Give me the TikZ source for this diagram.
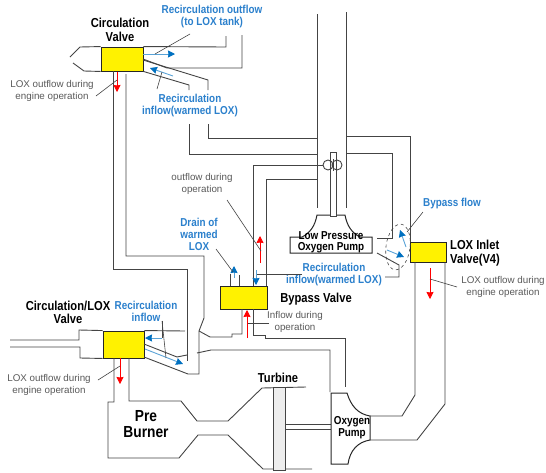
\documentclass[tikz,border=0pt]{standalone}
\usepackage{fontspec}
\usetikzlibrary{arrows.meta}
\setmainfont{Liberation Sans}
\newfontfamily\narrowfont[FakeStretch=0.86]{Liberation Sans}
\definecolor{flowblue}{HTML}{0070C0}
\definecolor{textblue}{HTML}{2B80CC}
\definecolor{pipegray}{HTML}{444444}
\tikzset{
  pipe/.style={draw=pipegray, line width=0.9pt},
  leader/.style={draw=pipegray, line width=0.6pt},
  blueflow/.style={-{Stealth[inset=0.5pt, length=7pt, width=7pt, flowblue]}, draw=flowblue!65, line width=0.9pt},
  redflow/.style={-{Stealth[inset=0.5pt, length=7pt, width=7pt, red]}, draw=red, line width=0.8pt},
  valve/.style={draw=black!85, line width=0.9pt, fill=yellow, rectangle, inner sep=0pt},
  blacklabel/.style={align=center, inner sep=0pt, text=black, font=\narrowfont\bfseries\fontsize{13}{13.5}\selectfont},
  bluelabel/.style={align=center, inner sep=0pt, text=textblue, font=\narrowfont\bfseries\fontsize{11.5}{12}\selectfont},
  graylabel/.style={align=center, inner sep=0pt, text=black!65, font=\fontsize{9.8}{11.6}\selectfont},
}
\begin{document}
\begin{tikzpicture}[x=1pt, y=-1pt]
\useasboundingbox (0,0) rectangle (546,472);
% valves
\node[valve, minimum width=42pt, minimum height=24pt] (cv) at (122,59) {};
\node[valve, minimum width=41pt, minimum height=27pt] (clv) at (123.5,344.5) {};
\node[valve, minimum width=47pt, minimum height=23pt] (bpv) at (243.5,297.5) {};
\node[valve, minimum width=36pt, minimum height=20pt] (liv) at (428,252) {};
% circulation valve pipes
\draw[pipe] (cv.north west) -- (80,47) -- (70,57);
\draw[pipe] (73,63) -- (84,71) -- (cv.south west);
\draw[pipe] (cv.north east) -- (226,47) -- (226,36);
\draw[pipe] (143,59) -- (167,68) -- (242,68) -- (242,35);
\draw[pipe] (143,60) -- (208,80) -- (208,90);
\draw[pipe] (cv.south east) -- (189,85) -- (189,90);
\draw[pipe] (208,124) -- (208,138) -- (317,138);
\draw[pipe] (189,124) -- (189,154) -- (317,154);
\draw[pipe] (113,71) -- (113,269) -- (187,269) -- (187,361);
\draw[pipe] (126,74) -- (126,256) -- (204,256) -- (204,318) -- (199,331) -- (199,374) -- (188,374) -- (144,357);
% circulation/LOX valve pipes
\draw[pipe] (10,340) -- (79,340) -- (79,330) -- (clv.north west);
\draw[pipe] (10,347) -- (80,347) -- (80,358) -- (clv.south west);
\draw[pipe] (clv.north east) -- (185,331);
\draw[pipe] (144,344) -- (177,357) -- (187,355);
% pre burner and turbine
\draw[pipe] (114,358) -- (114,402) -- (108,402) -- (108,458) -- (179,458) -- (198,435) -- (228,435) -- (263,469) -- (312,469);
\draw[pipe] (129,358) -- (129,401) -- (181,401) -- (197,421) -- (228,421) -- (262,388) -- (306,387);
\draw[pipe, fill=black!7] (273,387) rectangle (285,470);
\draw[pipe] (285,424) -- (331,424);
\draw[pipe] (285,429) -- (331,429);
% oxygen pump
\draw[line width=1pt, draw=black!85] (331,393) -- (347,393) .. controls (351,406) and (358,414) .. (370,416) -- (370,440) .. controls (358,442) and (350,450) .. (348,464) -- (331,464) -- cycle;
\draw[pipe] (370,416) -- (402,416) -- (415,395) -- (415,262);
\draw[pipe] (370,440) -- (417,440) -- (445,404) -- (445,262);
% main duct and low pressure pump
\draw[pipe] (317,14) -- (317,208);
\draw[pipe] (346,12) -- (346,208);
\draw[line width=1pt, draw=black!85] (317,215) .. controls (315,226) and (310,233) .. (302,237) -- (290,237) -- (290,253) -- (372,253) -- (372,237) -- (360,237) .. controls (352,233) and (347,226) .. (345,215) -- cycle;
\draw[pipe, fill=white] (330,152) rectangle (336,216);
\draw[pipe] (328,165) circle (5);
\draw[pipe] (337,165) circle (5);
\draw[pipe] (333,159) -- (333,171);
\draw[pipe] (317,179) -- (266,179) -- (266,286);
\draw[pipe] (323,165) -- (253,165) -- (253,286);
\draw[pipe] (346,136) -- (410,136) -- (410,242);
\draw[pipe] (346,153) -- (392,153) -- (392,238) -- (377,238);
\draw[pipe] (377,253) -- (399,265) -- (399,277) -- (385,277);
% bypass valve pipes
\draw[pipe] (230,286) -- (230,274);
\draw[pipe] (239,286) -- (239,275);
\draw[pipe] (199,331) -- (210,337) -- (232,337) -- (232,334) -- (242,334) -- (242,309);
\draw[pipe] (253,309) -- (253,335) -- (265,335) -- (265,338) -- (345,338) -- (345,387);
\draw[pipe] (197,353) -- (211,350) -- (330,350) -- (330,392);
\draw[dashed, draw=pipegray, line width=0.6pt, rotate around={-8:(398,247)}] (398,247) ellipse (12 and 23);
% flows
\draw[blueflow] (143,54) -- (175,54);
\draw[blueflow] (173,76) -- (150,68);
\draw[redflow] (117,72) -- (117,92);
\draw[blueflow] (162,338) -- (145,338);
\draw[blueflow] (145,349) -- (183,364);
\draw[redflow] (120,358) -- (120,384);
\draw[blueflow] (234,278) -- (234,266);
\draw[blueflow] (256,270) -- (256,285);
\draw[redflow] (260,263) -- (260,236);
\draw[redflow] (247,338) -- (247,310);
\draw[blueflow] (406,247) -- (400,230);
\draw[blueflow] (387,250) -- (404,257);
\draw[redflow] (430,268) -- (430,299);
% labels
\node[blacklabel] (cvname) at (120,30) {Circulation\\Valve};
\node[blacklabel] (clvname) at (68,312.5) {Circulation/LOX\\Valve};
\node[blacklabel] (bpvname) at (316,299) {Bypass Valve};
\node[blacklabel, align=left, anchor=west] (livname) at (450,253) {LOX Inlet\\Valve(V4)};
\node[blacklabel] (turbine) at (278,378) {Turbine};
\node[blacklabel, font=\narrowfont\bfseries\fontsize{16}{16.5}\selectfont] (preburner) at (146,424) {Pre\\Burner};
\node[blacklabel, font=\narrowfont\bfseries\fontsize{11.5}{12}\selectfont] (oxpump) at (352,428) {Oxygen\\Pump};
\node[blacklabel, font=\narrowfont\bfseries\fontsize{11.5}{11.5}\selectfont] (lppump) at (331,242.5) {Low Pressure\\Oxygen Pump};
\node[bluelabel] (outflowtxt) at (212,17) {Recirculation outflow\\(to LOX tank)};
\node[bluelabel] (inflowa) at (190,106) {Recirculation\\inflow(warmed LOX)};
\node[bluelabel] (inflowb) at (146,311) {Recirculation\\inflow};
\node[bluelabel] (inflowc) at (334,275) {Recirculation\\inflow(warmed LOX)};
\node[bluelabel] (drain) at (199,234) {Drain of\\warmed\\LOX};
\node[bluelabel, anchor=west] (bypass) at (423,204) {Bypass flow};
\node[graylabel] (loxa) at (52,91) {LOX outflow during\\engine operation};
\node[graylabel] (loxb) at (49,385) {LOX outflow during\\engine operation};
\node[graylabel] (loxc) at (503,287) {LOX outflow during\\engine operation};
\node[graylabel] (outop) at (202,184) {outflow during\\operation};
\node[graylabel] (inop) at (295,322) {Inflow during\\operation};
% leaders
\coordinate (lcv) at (117,80);
\coordinate (lclv) at (120,366);
\coordinate (lliv) at (430,279);
\coordinate (lout) at (155,54);
\coordinate (lret) at (162,72);
\coordinate (lred) at (261,251);
\coordinate (ldrain) at (233,272);
\coordinate (lbypass) at (407,232);
\coordinate (lin) at (248,323);
\coordinate (lv) at (162,321);
\draw[leader] (96,96) -- (lcv);
\draw[leader] (98,380) -- (lclv);
\draw[leader] (457,287) -- (lliv);
\draw[leader] (190,34) -- (lout);
\draw[leader] (157,89) -- (lret);
\draw[leader] (227,200) -- (lred);
\draw[leader] (216,249) -- (ldrain);
\draw[leader] (423,212) -- (lbypass);
\draw[leader] (269,323) -- (lin);
\draw[leader] (302,274) -- (257,274);
\draw[leader] (lv) -- (162,338);
\draw[leader] (lv) -- (166,358);
\end{tikzpicture}
\end{document}
